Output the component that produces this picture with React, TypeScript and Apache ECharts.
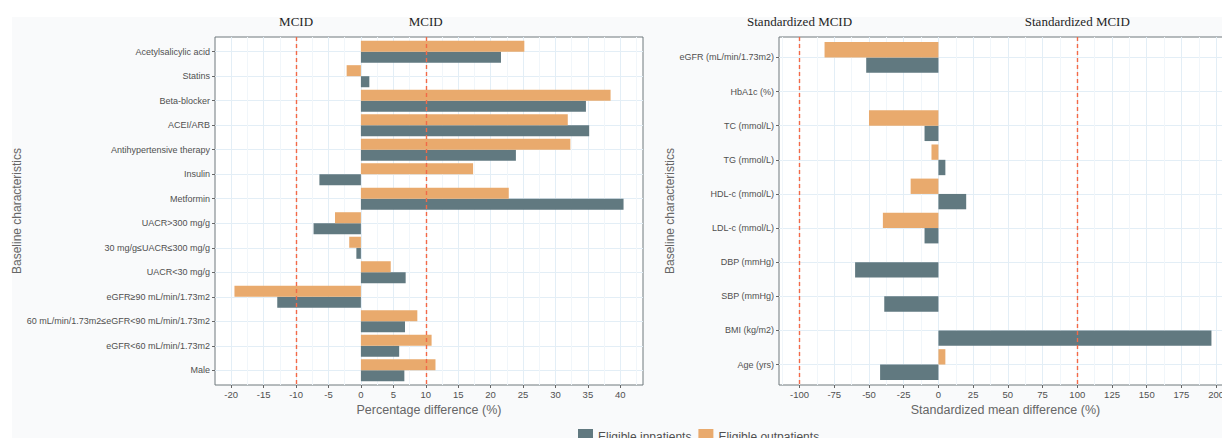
import React, { useEffect, useRef } from 'react';
import * as echarts from 'echarts';

const leftCategories = [
  'Acetylsalicylic acid',
  'Statins',
  'Beta-blocker',
  'ACEI/ARB',
  'Antihypertensive therapy',
  'Insulin',
  'Metformin',
  'UACR>300 mg/g',
  '30 mg/g≤UACR≤300 mg/g',
  'UACR<30 mg/g',
  'eGFR≥90 mL/min/1.73m2',
  '60 mL/min/1.73m2≤eGFR<90 mL/min/1.73m2',
  'eGFR<60 mL/min/1.73m2',
  'Male',
];
const leftInpatients = [21.6, 1.3, 34.7, 35.2, 23.9, -6.4, 40.5, -7.3, -0.7, 6.9, -12.9, 6.8, 5.9, 6.7];
const leftOutpatients = [25.2, -2.2, 38.5, 31.9, 32.3, 17.3, 22.8, -4.0, -1.8, 4.6, -19.5, 8.7, 10.9, 11.5];
const leftTicks = [-20, -15, -10, -5, 0, 5, 10, 15, 20, 25, 30, 35, 40];
const leftMcid = [-10, 10];

const rightCategories = [
  'eGFR (mL/min/1.73m2)',
  'HbA1c (%)',
  'TC (mmol/L)',
  'TG (mmol/L)',
  'HDL-c (mmol/L)',
  'LDL-c (mmol/L)',
  'DBP (mmHg)',
  'SBP (mmHg)',
  'BMI (kg/m2)',
  'Age (yrs)',
];
const rightInpatients = [-52, 0, -10, 5, 20, -10, -60, -39, 196.6, -42];
const rightOutpatients = [-82, 0, -50, -5, -20, -40, 0, 0, 0, 5];
const rightTicks = [-100, -75, -50, -25, 0, 25, 50, 75, 100, 125, 150, 175, 200];
const rightMcid = [-100, 100];

const seriesNames = ['Eligible inpatients', 'Eligible outpatients'];

const GRAY = '#617980';
const ORANGE = '#e9aa6d';
const LABEL = '#505050';
const TITLE = '#666666';
const SANS = 'Liberation Sans';

const makeRender = (side: number) => (params: any, api: any) => {
  const v = api.value(0);
  const idx = api.value(1);
  if (!v) return { type: 'group', children: [] };
  const p0 = api.coord([0, idx]);
  const p1 = api.coord([v, idx]);
  const unit = Math.abs(api.size([0, 1])[1]);
  const h = unit * 0.45;
  const y = side < 0 ? p0[1] - h : p0[1];
  return {
    type: 'rect',
    shape: { x: Math.min(p0[0], p1[0]), y, width: Math.abs(p1[0] - p0[0]), height: h },
    style: { fill: api.visual('color') },
  };
};

const catIndex = (cats: string[]) => cats.map((_, i) => i + 1);

const xAxisFor = (gridIndex: number, min: number, max: number, ticks: number[], step: number, name: string) => ({
  type: 'value',
  gridIndex,
  position: 'bottom',
  min,
  max,
  minInterval: step,
  maxInterval: step,
  name,
  nameLocation: 'middle',
  nameGap: 14,
  nameTextStyle: { color: TITLE, fontSize: 12.5, fontFamily: SANS },
  axisLine: { show: false, onZero: false },
  axisTick: { show: true, length: 3, customValues: ticks, lineStyle: { color: '#666' } },
  axisLabel: { customValues: ticks, color: LABEL, fontSize: 9.5, fontFamily: SANS, margin: 4 },
  splitLine: { show: true, lineStyle: { color: '#e3eef6', width: 1 } },
  minorTick: { show: false, splitNumber: 2 },
  minorSplitLine: { show: true, lineStyle: { color: '#f1f6fa', width: 1 } },
});

const yAxisFor = (gridIndex: number, cats: string[], nameGap: number) => ({
  type: 'value',
  gridIndex,
  position: 'left',
  inverse: true,
  min: 0.4,
  max: cats.length + 0.6,
  minInterval: 1,
  maxInterval: 1,
  name: 'Baseline characteristics',
  nameLocation: 'middle',
  nameGap,
  nameTextStyle: { color: TITLE, fontSize: 12, fontFamily: SANS },
  axisLine: { show: false, onZero: false },
  axisTick: { show: true, length: 3, customValues: catIndex(cats), lineStyle: { color: '#666' } },
  axisLabel: {
    customValues: catIndex(cats),
    color: LABEL,
    fontSize: 9,
    fontFamily: SANS,
    margin: 5,
    formatter: (v: number) => cats[Math.round(v) - 1] ?? '',
  },
  splitLine: { show: true, lineStyle: { color: '#e3eef6', width: 1 } },
});

const mcidLine = (values: number[], text: string) => ({
  silent: true,
  symbol: ['none', 'none'],
  lineStyle: { color: '#f26a48', type: [4, 3], width: 1.4 },
  label: {
    show: true,
    position: 'start',
    formatter: text,
    color: '#1f1f1f',
    fontSize: 13,
    fontFamily: 'Liberation Serif',
    distance: 9,
  },
  data: values.map((v) => ({ xAxis: v })),
});

export default function App() {
  const ref = useRef<HTMLDivElement>(null);
  useEffect(() => {
    if (!ref.current) return;
    const chart = echarts.init(ref.current, undefined, { renderer: 'svg' });
    const option: any = {
      animation: false,
      backgroundColor: '#ffffff',
      graphic: [
        {
          type: 'rect',
          z: -100,
          shape: { x: 12, y: 17, width: 1240, height: 440 },
          style: { fill: '#f9fafb' },
        },
      ],
      legend: {
        data: seriesNames.map((n) => ({ name: n, icon: 'rect' })),
        left: 573,
        top: 424,
        itemWidth: 15,
        itemHeight: 15,
        itemGap: 7,
        textStyle: { color: LABEL, fontSize: 12, fontFamily: SANS },
      },
      grid: [
        { left: 215, top: 37, width: 428, height: 348, show: true, backgroundColor: '#ffffff', borderColor: '#6f787c', borderWidth: 1 },
        { left: 779, top: 37, width: 453, height: 348, show: true, backgroundColor: '#ffffff', borderColor: '#6f787c', borderWidth: 1 },
      ],
      xAxis: [
        xAxisFor(0, -22.5, 43.5, leftTicks, 5, 'Percentage difference (%)'),
        xAxisFor(1, -114.8, 211.4, rightTicks, 25, 'Standardized mean difference (%)'),
      ],
      yAxis: [yAxisFor(0, leftCategories, 191), yAxisFor(1, rightCategories, 101)],
      series: [
        {
          type: 'custom',
          name: seriesNames[0],
          xAxisIndex: 0,
          yAxisIndex: 0,
          itemStyle: { color: GRAY },
          renderItem: makeRender(1),
          encode: { x: 0, y: 1 },
          data: leftInpatients.map((v, i) => [v, i + 1]),
        },
        {
          type: 'custom',
          name: seriesNames[1],
          xAxisIndex: 0,
          yAxisIndex: 0,
          itemStyle: { color: ORANGE },
          renderItem: makeRender(-1),
          encode: { x: 0, y: 1 },
          data: leftOutpatients.map((v, i) => [v, i + 1]),
          markLine: mcidLine(leftMcid, 'MCID'),
        },
        {
          type: 'custom',
          name: seriesNames[0],
          xAxisIndex: 1,
          yAxisIndex: 1,
          itemStyle: { color: GRAY },
          renderItem: makeRender(1),
          encode: { x: 0, y: 1 },
          data: rightInpatients.map((v, i) => [v, i + 1]),
        },
        {
          type: 'custom',
          name: seriesNames[1],
          xAxisIndex: 1,
          yAxisIndex: 1,
          itemStyle: { color: ORANGE },
          renderItem: makeRender(-1),
          encode: { x: 0, y: 1 },
          data: rightOutpatients.map((v, i) => [v, i + 1]),
          markLine: mcidLine(rightMcid, 'Standardized MCID'),
        },
      ],
    };
    chart.setOption(option);
    return () => chart.dispose();
  }, []);
  return (
    <div style={{ position: 'fixed', left: 0, top: 0, width: 1222, height: 438, overflow: 'hidden', background: '#fff' }}>
      <div ref={ref} style={{ width: 1240, height: 438 }} />
    </div>
  );
}
